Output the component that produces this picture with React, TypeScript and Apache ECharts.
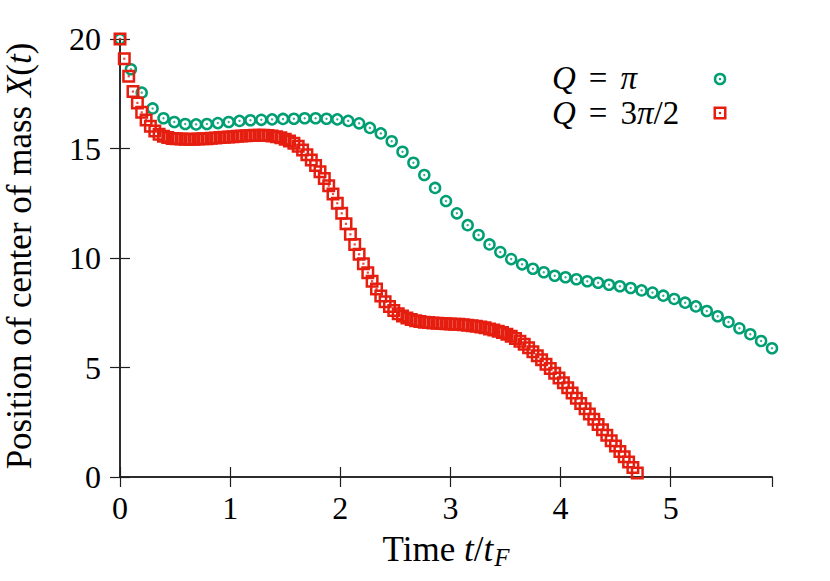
import React, { useEffect, useRef } from 'react';
import * as echarts from 'echarts';

const FONT = 'Liberation Serif';
const GREEN = '#009e73';
const RED = '#e51e10';
const AXIS = '#1f1f1f';

const xTicks = [0, 1, 2, 3, 4, 5];
const yTicks = [0, 5, 10, 15, 20];
const xMax = 5.92;

// Q = pi  (green circles)
const greenT = [0, 0.099, 0.197, 0.296, 0.395, 0.493, 0.592, 0.691, 0.789, 0.888, 0.987, 1.085, 1.184, 1.283, 1.381, 1.48, 1.579, 1.677, 1.776, 1.875, 1.973, 2.072, 2.171, 2.269, 2.368, 2.467, 2.565, 2.664, 2.763, 2.861, 2.96, 3.059, 3.157, 3.256, 3.355, 3.453, 3.552, 3.651, 3.749, 3.848, 3.947, 4.045, 4.144, 4.243, 4.341, 4.44, 4.539, 4.637, 4.736, 4.835, 4.933, 5.032, 5.131, 5.229, 5.328, 5.427, 5.525, 5.624, 5.723, 5.821, 5.92];
const greenX = [20.0, 18.62, 17.55, 16.83, 16.38, 16.21, 16.12, 16.1, 16.12, 16.16, 16.21, 16.26, 16.29, 16.31, 16.33, 16.35, 16.36, 16.38, 16.38, 16.36, 16.33, 16.26, 16.15, 15.94, 15.69, 15.33, 14.85, 14.35, 13.79, 13.2, 12.6, 12.04, 11.5, 11.05, 10.62, 10.27, 9.95, 9.71, 9.51, 9.35, 9.19, 9.12, 9.03, 8.94, 8.87, 8.78, 8.71, 8.63, 8.52, 8.42, 8.28, 8.13, 7.96, 7.79, 7.58, 7.34, 7.08, 6.79, 6.52, 6.21, 5.88];

// Q = 3pi/2  (red squares)
const redT = [0, 0.039, 0.079, 0.118, 0.158, 0.197, 0.237, 0.276, 0.316, 0.355, 0.395, 0.434, 0.474, 0.513, 0.553, 0.592, 0.632, 0.671, 0.71, 0.75, 0.789, 0.829, 0.868, 0.908, 0.947, 0.987, 1.026, 1.066, 1.105, 1.145, 1.184, 1.224, 1.263, 1.303, 1.342, 1.381, 1.421, 1.46, 1.5, 1.539, 1.579, 1.618, 1.658, 1.697, 1.737, 1.776, 1.816, 1.855, 1.895, 1.934, 1.973, 2.013, 2.052, 2.092, 2.131, 2.171, 2.21, 2.25, 2.289, 2.329, 2.368, 2.407, 2.447, 2.486, 2.526, 2.565, 2.605, 2.644, 2.684, 2.723, 2.763, 2.802, 2.842, 2.881, 2.921, 2.96, 2.999, 3.039, 3.078, 3.118, 3.157, 3.197, 3.236, 3.276, 3.315, 3.355, 3.394, 3.434, 3.473, 3.513, 3.552, 3.591, 3.631, 3.67, 3.71, 3.749, 3.789, 3.828, 3.868, 3.907, 3.947, 3.986, 4.026, 4.065, 4.105, 4.144, 4.183, 4.223, 4.262, 4.302, 4.341, 4.381, 4.42, 4.46, 4.499, 4.539, 4.578, 4.618, 4.657, 4.697];
const redX = [20.0, 19.1, 18.3, 17.6, 17.08, 16.65, 16.3, 16.02, 15.8, 15.65, 15.56, 15.5, 15.46, 15.44, 15.43, 15.42, 15.42, 15.42, 15.43, 15.44, 15.45, 15.47, 15.48, 15.5, 15.51, 15.53, 15.54, 15.56, 15.57, 15.58, 15.59, 15.6, 15.6, 15.6, 15.59, 15.57, 15.54, 15.49, 15.42, 15.34, 15.24, 15.1, 14.93, 14.72, 14.48, 14.22, 13.94, 13.63, 13.3, 12.92, 12.5, 12.04, 11.56, 11.08, 10.62, 10.17, 9.74, 9.33, 8.94, 8.58, 8.27, 8.0, 7.78, 7.6, 7.46, 7.35, 7.26, 7.19, 7.14, 7.1, 7.07, 7.05, 7.03, 7.02, 7.01, 7.0, 6.99, 6.98, 6.97, 6.95, 6.93, 6.91, 6.88, 6.85, 6.81, 6.76, 6.71, 6.65, 6.6, 6.52, 6.43, 6.32, 6.2, 6.06, 5.9, 5.72, 5.54, 5.35, 5.15, 4.95, 4.74, 4.52, 4.3, 4.07, 3.84, 3.6, 3.36, 3.12, 2.88, 2.64, 2.4, 2.16, 1.91, 1.66, 1.41, 1.16, 0.92, 0.68, 0.43, 0.18];

const axisLine = { show: true, lineStyle: { color: AXIS, width: 1.5 } };
const axisTick = { show: true, inside: true, length: 10, lineStyle: { color: AXIS, width: 1.2 } };
const tickStyle = { fontFamily: FONT, fontSize: 32, color: '#000' };
const TITLE = 35;
const titleStyle = { fontFamily: FONT, fontSize: TITLE, color: '#000' };
const titleRich = {
  i: { fontFamily: FONT, fontSize: TITLE, fontStyle: 'italic', color: '#000' },
  s: { fontFamily: FONT, fontSize: 25, fontStyle: 'italic', color: '#000', padding: [16, 0, 0, 1] },
};
const LEG = 33;
const legendRich = {
  i: { fontFamily: FONT, fontSize: LEG, fontStyle: 'italic', color: '#000' },
  e: { fontFamily: FONT, fontSize: LEG, color: '#000', padding: [0, 13, 0, 13] },
};

function buildOption() {
  const intFmt = (v: number) => (xTicks.indexOf(v) >= 0 ? String(v) : '');
  const greenData = greenT.map((t, i) => [t, greenX[i]]);
  const redData = redT.map((t, i) => [t, redX[i]]);
  return {
    animation: false,
    backgroundColor: '#fff',
    textStyle: { fontFamily: FONT },
    grid: { left: 120, right: 58, top: 39, bottom: 104, containLabel: false, outerBoundsMode: 'none' },
    xAxis: [
      {
        type: 'value', min: 0, max: xMax, interval: 1, position: 'bottom',
        axisLine, axisTick, splitLine: { show: false },
        axisLabel: { ...tickStyle, margin: 15, formatter: intFmt, showMaxLabel: false },
        name: 'Time {i|t}/{i|t}{s|F}', nameLocation: 'middle', nameGap: 52,
        nameTextStyle: { ...titleStyle, rich: titleRich },
      },
      {
        type: 'value', min: 0, max: xMax, interval: 1, position: 'top',
        axisLine, axisTick, splitLine: { show: false }, axisLabel: { show: false },
      },
    ],
    yAxis: [
      {
        type: 'value', min: 0, max: 20, interval: 5, position: 'left',
        axisLine, axisTick, splitLine: { show: false },
        axisLabel: { ...tickStyle, margin: 19, formatter: (v: number) => (yTicks.indexOf(v) >= 0 ? String(v) : '') },
        name: 'Position of center of mass {i|X}({i|t})', nameLocation: 'middle', nameGap: 83,
        nameTextStyle: { ...titleStyle, rich: titleRich, padding: [0, 0, 0, 4] },
      },
      {
        type: 'value', min: 0, max: 20, interval: 5, position: 'right',
        axisLine, axisTick, splitLine: { show: false }, axisLabel: { show: false },
      },
    ],
    series: [
      {
        name: 'Q = π', type: 'scatter', clip: false,
        symbol: 'circle', symbolSize: 10,
        itemStyle: { color: 'transparent', borderColor: GREEN, borderWidth: 2.5, opacity: 1 },
        data: greenData, z: 2,
      },
      {
        name: 'Q = π dot', type: 'scatter', clip: false,
        symbol: 'circle', symbolSize: 2.4,
        itemStyle: { color: GREEN, borderWidth: 0 },
        data: greenData, z: 3,
      },
      {
        name: 'Q = 3π/2', type: 'scatter', clip: false,
        symbol: 'rect', symbolSize: 10.5,
        itemStyle: { color: 'transparent', borderColor: RED, borderWidth: 2.5, opacity: 1 },
        data: redData, z: 4,
      },
      {
        name: 'Q = 3π/2 dot', type: 'scatter', clip: false,
        symbol: 'rect', symbolSize: 2.2,
        itemStyle: { color: RED, borderWidth: 0 },
        data: redData, z: 5,
      },
    ],
    graphic: [
      {
        type: 'text', x: 552, y: 78, z: 10,
        style: {
          text: '{i|Q}{e|=}{i|π}', rich: legendRich, fontFamily: FONT, fontSize: LEG, fill: '#000',
          align: 'left', verticalAlign: 'middle',
        },
      },
      {
        type: 'text', x: 552, y: 112.5, z: 10,
        style: {
          text: '{i|Q}{e|=}3{i|π}/2', rich: legendRich, fontFamily: FONT, fontSize: LEG, fill: '#000',
          align: 'left', verticalAlign: 'middle',
        },
      },
      { type: 'circle', shape: { cx: 720, cy: 79, r: 5 }, style: { fill: 'none', stroke: GREEN, lineWidth: 2.5 }, z: 10 },
      { type: 'circle', shape: { cx: 720, cy: 79, r: 1.2 }, style: { fill: GREEN }, z: 10 },
      { type: 'rect', shape: { x: 714.75, y: 107.75, width: 10.5, height: 10.5 }, style: { fill: 'none', stroke: RED, lineWidth: 2.5 }, z: 10 },
      { type: 'rect', shape: { x: 718.9, y: 111.9, width: 2.2, height: 2.2 }, style: { fill: RED }, z: 10 },
    ],
  };
}

export default function App() {
  const ref = useRef<HTMLDivElement>(null);
  useEffect(() => {
    if (!ref.current) return;
    const chart = echarts.init(ref.current, null, { renderer: 'svg' });
    chart.setOption(buildOption() as any);
    return () => chart.dispose();
  }, []);
  return (
    <div
      ref={ref}
      style={{ position: 'fixed', left: 0, top: 0, width: 830, height: 581, background: '#fff' }}
    />
  );
}
